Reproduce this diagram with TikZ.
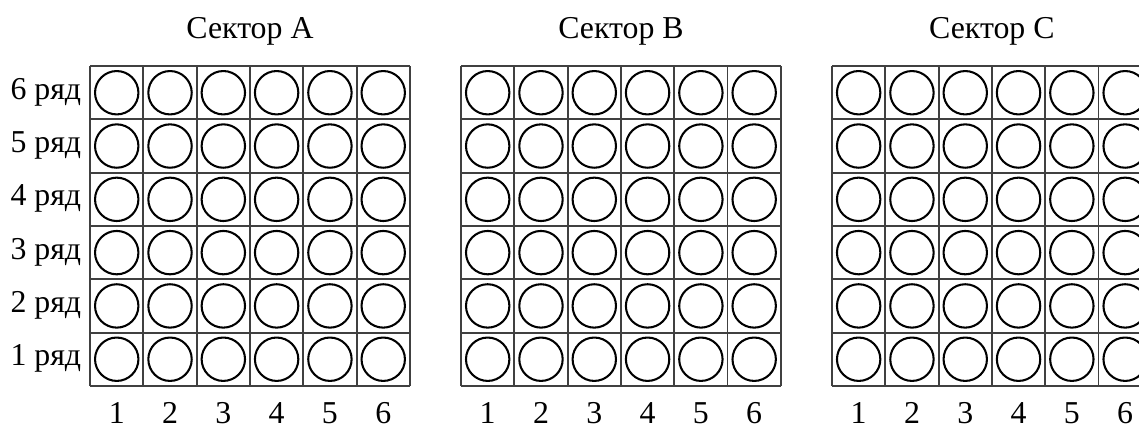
\documentclass[tikz,border=0pt]{standalone}
\usepackage{fontspec}
\setmainfont{Liberation Serif}
\begin{document}
\begin{tikzpicture}[
    gridline/.style={draw=black!75, line width=1pt},
    seat/.style={draw=black, line width=1.1pt},
    lbl/.style={inner sep=0pt, font=\fontsize{17pt}{20pt}\selectfont}
]

    % Define the page
    \useasboundingbox (0,0) rectangle (21.37,8.03);
    \clip (0,0) rectangle (21.37,8.03);

    % Draw the three sectors
    \foreach \s/\x in {A/1.69, B/8.65, C/15.61} {
        \begin{scope}[shift={(\x,0.79)}]
            \draw[gridline] (0,0) grid (6,6);
            \foreach \i in {0,...,5}
                \foreach \j in {0,...,5}
                    \draw[seat] (\i+0.5,\j+0.5) circle (0.407);
            % Title
            \node[lbl, anchor=base] (title\s) at (3,6.52) {Сектор \s};
            % Seat numbers
            \foreach \c in {1,...,6}
                \node[lbl, anchor=base] (col\s\c) at (\c-0.5,-0.70) {\c};
        \end{scope}
    }

    % Row labels
    \foreach \rw in {1,...,6}
        \node[lbl, anchor=base east] (row\rw) at (1.53,\rw+0.17) {\rw{} ряд};

\end{tikzpicture}
\end{document}
